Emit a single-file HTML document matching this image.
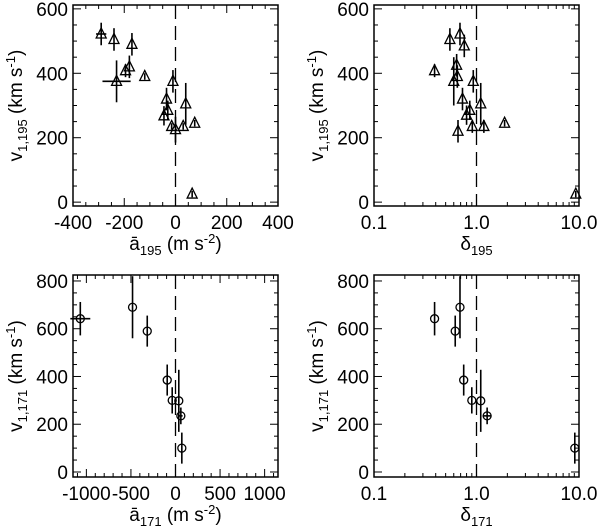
<!DOCTYPE html>
<html><head><meta charset="utf-8"><style>
body{margin:0;background:#fff;}
svg{display:block;font-family:"Liberation Sans",Arial,sans-serif;}
</style></head><body>
<svg id="fig" width="600" height="526" viewBox="0 0 600 526" xmlns="http://www.w3.org/2000/svg"></svg>
<script>
// Panel A: v1,195 vs a195
const a195X=[-290,-240,-170,-195,-180,-230,-120,-10,-35,-30,-45,40,-15,0,30,75,65];
const a195V=[522,505,490,408,420,375,390,375,320,285,268,305,235,225,235,245,25];
const a195Xerr=[20,0,0,0,0,55,0,0,0,0,0,0,0,0,0,0,0];
const a195Verr=[35,35,35,20,35,65,10,35,35,30,30,65,10,40,10,10,10];
// Panel B: v1,195 vs delta195
const d195X=[0.39,0.55,0.69,0.76,0.64,0.65,0.60,0.73,0.80,0.86,0.93,1.1,0.66,0.91,1.18,1.88,9.3];
const d195V=[408,505,522,485,425,390,375,320,270,285,375,305,220,235,235,245,25];
const d195Verr=[20,35,35,35,35,35,75,35,30,30,35,65,35,20,20,10,10];
// Panel C: v1,171 vs a171
const a171X=[-1068,-482,-317,-93,-37,37,60,71];
const a171V=[642,690,590,385,300,298,235,100];
const a171Xerr=[112,0,0,0,0,0,20,0];
const a171Verr=[70,130,65,65,55,130,35,65];
// Panel D: v1,171 vs delta171
const d171X=[0.39,0.62,0.69,0.75,0.90,1.1,1.27,9.1];
const d171V=[642,590,690,385,300,298,235,100];
const d171Xerr=[0,0,0,0,0,0,0.12,0];
const d171Verr=[70,65,130,65,55,130,35,65];

const NS="http://www.w3.org/2000/svg";
const svg=document.getElementById('fig');
function el(tag,attrs,parent){const e=document.createElementNS(NS,tag);for(const k in attrs)e.setAttribute(k,attrs[k]);(parent||svg).appendChild(e);return e;}

function panel(cfg){
  const g=el('g',{});
  
  
  const L=cfg.x0,R=cfg.x1,T=cfg.y0,B=cfg.y1;
  const sy=v=>B-(v-cfg.ymin)/(cfg.ymax-cfg.ymin)*(B-T);
  const sx=cfg.log?(v=>L+(Math.log10(v)-Math.log10(cfg.xmin))/(Math.log10(cfg.xmax)-Math.log10(cfg.xmin))*(R-L))
                  :(v=>L+(v-cfg.xmin)/(cfg.xmax-cfg.xmin)*(R-L));
  const fr=el('rect',{x:L,y:T,width:R-L,height:B-T,fill:'none',stroke:'#000','stroke-width':1.5},g);
  
  
  for(let v=0;v<=cfg.ymaxTick;v+=cfg.yminor){
    const y=sy(v);const maj=(v%cfg.ymajor===0);const len=maj?8:4;
    el('line',{x1:L,y1:y,x2:L+len,y2:y,stroke:'#000','stroke-width':1},g);
    el('line',{x1:R,y1:y,x2:R-len,y2:y,stroke:'#000','stroke-width':1},g);
    if(maj){const t=el('text',{x:L-5,y:y+7,'text-anchor':'end','font-size':19},g);t.textContent=v;
      
      }
  }
  if(cfg.log){
    for(let d=-1;d<1;d++){for(let k=1;k<10;k++){const v=k*Math.pow(10,d);const x=sx(v);const len=k===1?8:4;
      el('line',{x1:x,y1:B,x2:x,y2:B-len,stroke:'#000'},g);el('line',{x1:x,y1:T,x2:x,y2:T+len,stroke:'#000'},g);}}
    [[0.1,'0.1'],[1,'1.0'],[10,'10.0']].forEach(([v,s])=>{const t=el('text',{x:sx(v),y:B+23,'text-anchor':'middle','font-size':19},g);t.textContent=s;
      
      });
  } else {
    const start=Math.ceil(cfg.xmin/cfg.xminor)*cfg.xminor;
    for(let v=start;v<=cfg.xmax;v+=cfg.xminor){const x=sx(v);const maj=(v%cfg.xmajor===0);const len=maj?8:4;
      el('line',{x1:x,y1:B,x2:x,y2:B-len,stroke:'#000'},g);el('line',{x1:x,y1:T,x2:x,y2:T+len,stroke:'#000'},g);}
    cfg.xlabels.forEach(v=>{const t=el('text',{x:sx(v),y:B+23,'text-anchor':'middle','font-size':19},g);t.textContent=v;
      
      });
  }
  const dl=el('line',{x1:sx(cfg.ref),y1:T,x2:sx(cfg.ref),y2:B,stroke:'#000','stroke-width':1.3,'stroke-dasharray':'14,7'},g);
  
  
  cfg.xs.forEach((xv,i)=>{
    const x=sx(xv),y=sy(cfg.vs[i]);
    const ve=cfg.ve[i];
    el('line',{x1:x,y1:sy(cfg.vs[i]-ve),x2:x,y2:Math.max(T,sy(cfg.vs[i]+ve)),stroke:'#000','stroke-width':1.6},g);
    const xe=cfg.xe?cfg.xe[i]:0;
    if(xe>0){el('line',{x1:sx(xv-xe),y1:y,x2:sx(xv+xe),y2:y,stroke:'#000','stroke-width':1.6},g);}
    let m;
    if(cfg.sym==='tri'){
      m=el('polygon',{points:`${x-5},${y+4} ${x+5},${y+4} ${x},${y-6}`,fill:'none',stroke:'#000','stroke-width':1.3},g);
    } else {
      m=el('circle',{cx:x,cy:y,r:4,fill:'none',stroke:'#000','stroke-width':1.3},g);
    }
    
    
  });
  const yt=el('text',{x:0,y:0,'font-size':19,transform:`translate(${cfg.ylx},${(T+B)/2}) rotate(-90)`,'text-anchor':'middle'},g);
  yt.innerHTML=`v<tspan font-size="13" dy="5">1,${cfg.ch}</tspan><tspan dy="-5"> (km s</tspan><tspan font-size="13" dy="-7">-1</tspan><tspan dy="7">)</tspan>`;
  
  
  const xt=el('text',{x:(L+R)/2,y:B+44,'font-size':19,'text-anchor':'middle'},g);
  xt.innerHTML=cfg.log?`δ<tspan font-size="13" dy="5">${cfg.ch}</tspan>`
    :`ā<tspan font-size="13" dy="5">${cfg.ch}</tspan><tspan dy="-5"> (m s</tspan><tspan font-size="13" dy="-7">-2</tspan><tspan dy="7">)</tspan>`;
  
  
}

const cfgTop={y0:5,y1:206,ymin:-12,ymax:612,ymaxTick:600,ymajor:200,yminor:50,ch:'195',ylx:22};
const cfgBot={y0:275,y1:477,ymin:-21,ymax:825,ymaxTick:800,ymajor:200,yminor:50,ch:'171',ylx:22};
panel(Object.assign({},cfgTop,{name:'panel-v195-vs-a195',x0:73,x1:278,xmin:-400,xmax:400,xminor:50,xmajor:200,xlabels:[-400,-200,0,200,400],ref:0,xs:a195X,vs:a195V,xe:a195Xerr,ve:a195Verr,sym:'tri'}));
panel(Object.assign({},cfgTop,{name:'panel-v195-vs-delta195',x0:374,x1:579,log:true,xmin:0.1,xmax:10,ref:1,xs:d195X,vs:d195V,ve:d195Verr,sym:'tri',ylx:323}));
panel(Object.assign({},cfgBot,{name:'panel-v171-vs-a171',x0:73,x1:278,xmin:-1150,xmax:1150,xminor:100,xmajor:500,xlabels:[-1000,-500,0,500,1000],ref:0,xs:a171X,vs:a171V,xe:a171Xerr,ve:a171Verr,sym:'circ'}));
panel(Object.assign({},cfgBot,{name:'panel-v171-vs-delta171',x0:374,x1:579,log:true,xmin:0.1,xmax:10,ref:1,xs:d171X,vs:d171V,xe:d171Xerr,ve:d171Verr,sym:'circ',ylx:323}));
</script>
</body></html>
